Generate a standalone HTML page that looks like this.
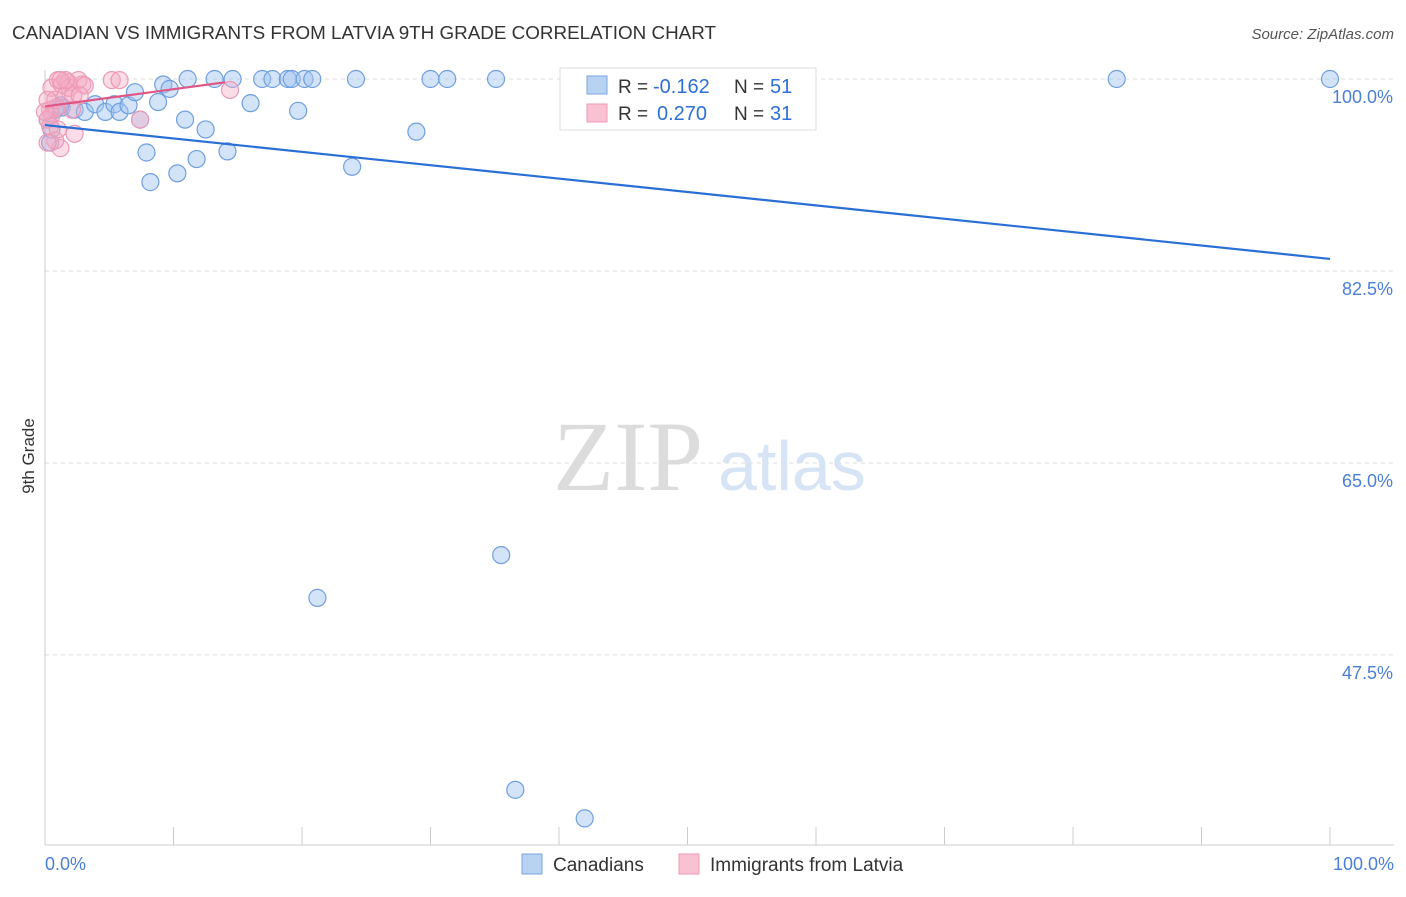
<!DOCTYPE html>
<html><head><meta charset="utf-8"><style>
body{margin:0;background:#fff;font-family:"Liberation Sans",sans-serif;}
</style></head><body>
<svg width="1406" height="892" viewBox="0 0 1406 892" font-family="Liberation Sans, sans-serif">
<text x="12" y="39" font-size="18" fill="#333" textLength="704" lengthAdjust="spacingAndGlyphs">CANADIAN VS IMMIGRANTS FROM LATVIA 9TH GRADE CORRELATION CHART</text>
<text x="1394" y="39" font-size="15" fill="#555" font-style="italic" text-anchor="end">Source: ZipAtlas.com</text>
<g id="grid"></g>
<g id="axes"></g>
<text x="553" y="490" style="font-family:'Liberation Serif',serif;font-size:100px" fill="#dcdcdc">ZIP</text>
<text x="718" y="490" font-size="70" fill="#d6e4f5">atlas</text>
<g id="points"></g>
<g id="trends"></g>
<text transform="translate(34,456) rotate(-90)" font-size="17" fill="#333" text-anchor="middle">9th Grade</text>
<text x="45" y="870" font-size="18" fill="#4a7fd6">0.0%</text>
<text x="1394" y="870" font-size="18" fill="#4a7fd6" text-anchor="end">100.0%</text>
<g>
<rect x="560" y="68" width="256" height="62" fill="#fff" stroke="#ddd"/>
<rect x="587" y="76" width="20" height="18" fill="#b8d2f2" stroke="#7aa6e0"/>
<rect x="587" y="104" width="20" height="18" fill="#f9c2d2" stroke="#ee99b4"/>
<text x="618" y="93" font-size="19" fill="#333">R =</text>
<text x="653" y="93" font-size="20" fill="#2f6fd6">-0.162</text>
<text x="734" y="93" font-size="19" fill="#333">N =</text>
<text x="770" y="93" font-size="20" fill="#2f6fd6">51</text>
<text x="618" y="120" font-size="19" fill="#333">R =</text>
<text x="657" y="120" font-size="20" fill="#2f6fd6">0.270</text>
<text x="734" y="120" font-size="19" fill="#333">N =</text>
<text x="770" y="120" font-size="20" fill="#2f6fd6">31</text>
</g>
<g>
<rect x="522" y="854" width="20" height="20" fill="#b8d2f2" stroke="#7aa6e0"/>
<text x="553" y="871" font-size="19" fill="#333">Canadians</text>
<rect x="679" y="854" width="20" height="20" fill="#f9c2d2" stroke="#ee99b4"/>
<text x="710" y="871" font-size="19" fill="#333">Immigrants from Latvia</text>
</g>
</svg>
<script>
const yTicks=[100,82.5,65,47.5];
const yTickLabels=["100.0%","82.5%","65.0%","47.5%"];
const blueX=[0.4,0.8,1.3,2.3,3.1,3.9,4.7,5.4,5.8,6.5,7.0,7.4,7.9,8.2,8.8,9.2,9.7,10.3,10.9,11.1,11.8,12.5,13.2,14.2,14.6,16.0,16.9,17.7,18.9,19.2,19.7,20.2,20.8,21.2,23.9,24.2,28.9,30.0,31.3,35.1,35.5,36.6,40.9,42.0,47.7,56.4,83.4,100,0.2,0.5,1.2];
const blueY=[94.2,97.2,97.4,97.2,97.0,97.7,97.0,97.7,97.0,97.6,98.8,96.3,93.3,90.6,97.9,99.5,99.1,91.4,96.3,100,92.7,95.4,100,93.4,100,97.8,100,100,100,100,97.1,100,100,52.7,92.0,100,95.2,100,100,100,56.6,35.2,100,32.6,100,100,100,100,96.3,95.4,97.6];
const pinkX=[0.4,0.5,0.8,1.0,1.2,1.3,1.6,1.8,1.9,2.1,2.3,2.6,2.9,3.1,0.5,0.2,0.4,0.8,5.2,5.8,7.4,14.4,0.2,0.9,1.6,1.2,0,0.2,2.2,1.0,2.7];
const pinkY=[97.2,99.2,98.1,99.9,93.7,99.5,98.5,99.7,99.2,97.2,95.0,99.9,99.5,99.4,96.7,96.3,95.7,94.4,99.9,99.9,96.3,99.0,94.2,97.4,99.9,99.9,97.0,98.1,98.5,95.4,98.5];
const blueTrendX=[0,100];
const blueTrendY=[95.8,83.6];
const pinkTrendX=[0,14];
const pinkTrendY=[97.5,99.7];
const X0=45,X1=1330,Y100=79,PXPER=10.97;
function sx(v){return X0+(X1-X0)*v/100;}
function sy(v){return Y100+(100-v)*PXPER;}
const NS="http://www.w3.org/2000/svg";
function mk(tag,attrs,parent){const e=document.createElementNS(NS,tag);for(const k in attrs)e.setAttribute(k,attrs[k]);parent.appendChild(e);return e;}
const grid=document.getElementById('grid'),axes=document.getElementById('axes');
yTicks.forEach((t,i)=>{
 const l=mk('line',{x1:X0,x2:1394,y1:sy(t),y2:sy(t),stroke:'#ddd','stroke-dasharray':'4,4'},grid);
 
 
 const tx=mk('text',{x:1393,y:sy(t)+24,'font-size':18,fill:'#4a7fd6','text-anchor':'end'},axes);
 tx.textContent=yTickLabels[i];
 
 
});
const ax=mk('line',{x1:X0,x2:1394,y1:845,y2:845,stroke:'#ccc'},axes);


const ay=mk('line',{x1:X0,x2:X0,y1:70,y2:845,stroke:'#ccc'},axes);


for(let i=0;i<=10;i++){
 const t=mk('line',{x1:sx(i*10),x2:sx(i*10),y1:827,y2:845,stroke:'#ccc'},axes);
 
 
}
const pts=document.getElementById('points');
blueX.forEach((x,i)=>{
 const c=mk('circle',{cx:sx(x),cy:sy(blueY[i]),r:8.5,fill:'rgba(160,195,240,0.45)',stroke:'#6f9fe0','stroke-width':1.2},pts);
 
 
});
pinkX.forEach((x,i)=>{
 const c=mk('circle',{cx:sx(x),cy:sy(pinkY[i]),r:8.5,fill:'rgba(245,170,195,0.4)',stroke:'#ec9ab5','stroke-width':1.2},pts);
 
 
});
const tr=document.getElementById('trends');
const bl=mk('line',{x1:sx(blueTrendX[0]),y1:sy(blueTrendY[0]),x2:sx(blueTrendX[1]),y2:sy(blueTrendY[1]),stroke:'#2a6fd6','stroke-width':2.2},tr);


const pl=mk('line',{x1:sx(pinkTrendX[0]),y1:sy(pinkTrendY[0]),x2:sx(pinkTrendX[1]),y2:sy(pinkTrendY[1]),stroke:'#e05585','stroke-width':2.2},tr);


</script>
</body></html>
